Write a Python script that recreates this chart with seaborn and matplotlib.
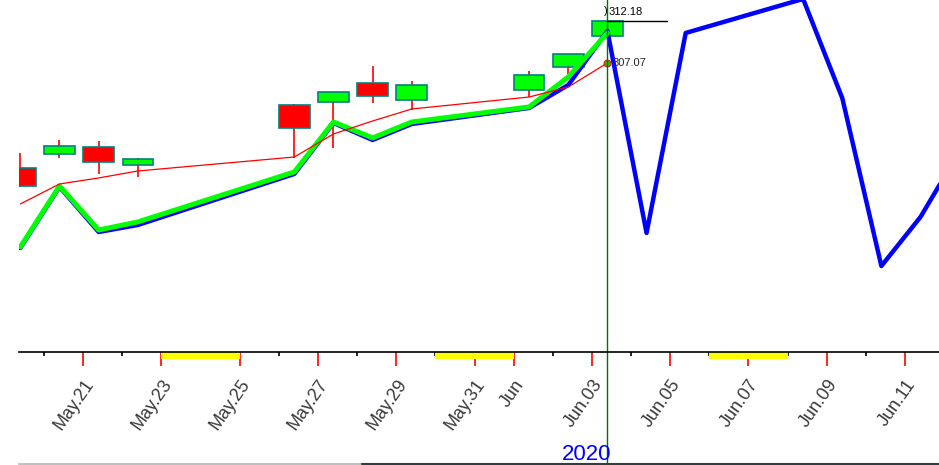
import matplotlib
matplotlib.use("Agg")
import matplotlib.pyplot as plt
import matplotlib.dates as mdates
from matplotlib.patches import Rectangle
from matplotlib.lines import Line2D
from matplotlib.transforms import ScaledTranslation
import pandas as pd
import seaborn as sns

# candles (daily bars, timestamp 09:30)
candle_days = ["2020-05-19", "2020-05-20", "2020-05-21", "2020-05-22", "2020-05-26",
               "2020-05-27", "2020-05-28", "2020-05-29", "2020-06-01", "2020-06-02",
               "2020-06-03"]
opens = [294.30, 296.00, 296.85, 294.66, 301.96, 302.33, 304.64, 302.57, 303.79, 306.58, 310.36]
highs = [296.12, 297.70, 297.58, 295.51, 302.08, 303.54, 306.71, 304.88, 306.10, 308.17, 312.18]
lows = [291.99, 295.51, 293.57, 293.20, 295.51, 296.73, 302.20, 301.35, 302.93, 305.73, 310.36]
closes = [292.11, 296.97, 295.03, 295.39, 299.16, 303.54, 303.06, 304.39, 305.61, 308.17, 312.18]

# fitted (green) and fitted + forecast (blue)
fit_values = [284.69, 292.11, 286.75, 287.73, 293.81, 299.89, 297.95, 299.89, 301.72, 305.37, 310.72]
forecast_days = candle_days + ["2020-06-04", "2020-06-05", "2020-06-08", "2020-06-09",
                               "2020-06-10", "2020-06-11", "2020-06-12"]
forecast_values = [284.57, 291.99, 286.51, 287.36, 293.57, 299.77, 297.70, 299.65, 301.60,
                   304.39, 310.96, 286.39, 310.72, 314.86, 302.81, 282.37, 288.34, 296.36]

# moving average (red)
ma_values = [289.92, 292.35, 293.08, 293.93, 295.63, 298.43, 300.01, 301.47, 302.93, 304.15, 307.07]

# weekends / holidays shaded under the axis
weekend_spans = [("2020-05-23", "2020-05-25"), ("2020-05-30", "2020-06-01"),
                 ("2020-06-06", "2020-06-08")]

major_days = ["2020-05-21", "2020-05-23", "2020-05-25", "2020-05-27", "2020-05-29",
              "2020-05-31", "2020-06-01", "2020-06-03", "2020-06-05", "2020-06-07",
              "2020-06-09", "2020-06-11"]
major_labels = ["May.21", "May.23", "May.25", "May.27", "May.29", "May.31", "Jun",
                "Jun.03", "Jun.05", "Jun.07", "Jun.09", "Jun.11"]
minor_days = ["2020-05-20", "2020-05-22", "2020-05-24", "2020-05-26", "2020-05-28",
              "2020-05-30", "2020-06-02", "2020-06-04", "2020-06-06", "2020-06-08",
              "2020-06-10"]

last_close = 312.18
last_ma = 307.07

sns.set_theme(style="white")
plt.rcParams["font.family"] = ["Liberation Sans", "DejaVu Sans"]

def stamp(d):
    return pd.Timestamp(d) + pd.Timedelta(hours=9, minutes=30)

candles = pd.DataFrame({
    "date": [stamp(d) for d in candle_days],
    "open": opens, "high": highs, "low": lows, "close": closes,
    "fit": fit_values, "ma": ma_values,
})
forecast = pd.DataFrame({"date": [stamp(d) for d in forecast_days], "value": forecast_values})

fig = plt.figure(figsize=(9.39, 4.65), dpi=100)
ax = fig.add_axes([19 / 939, 113 / 465, 920 / 939, 352 / 465])

# candles
xs = mdates.date2num(candles["date"])
up = candles["close"] >= candles["open"]
ax.vlines(xs, candles["low"], candles["high"], color="#ff0000", linewidth=1.2, zorder=2)
ax.bar(xs, (candles["close"] - candles["open"]).abs(),
       bottom=candles[["open", "close"]].min(axis=1), width=0.78,
       color=["#00ff00" if u else "#ff0000" for u in up],
       edgecolor="#008080", linewidth=1.2, zorder=3)

# lines
sns.lineplot(data=forecast, x="date", y="value", color="#0000ff", linewidth=3.2,
             sort=False, estimator=None, ax=ax, zorder=4)
sns.lineplot(data=candles, x="date", y="fit", color="#00ff00", linewidth=3.6,
             sort=False, estimator=None, ax=ax, zorder=5)
sns.lineplot(data=candles, x="date", y="ma", color="#ff0000", linewidth=0.9,
             sort=False, estimator=None, ax=ax, zorder=6)

x_last = xs[-1]
ax.plot([x_last], [last_ma], marker="o", markersize=5, markerfacecolor="#00d000",
        markeredgecolor="#ff0000", markeredgewidth=0.7, zorder=7)
ax.axvline(x_last, ymin=-113 / 352, ymax=1, color="#007000", linewidth=1, clip_on=False, zorder=8)

ax.set_xlim(mdates.date2num(pd.Timestamp("2020-05-19 08:40")),
            mdates.date2num(pd.Timestamp("2020-06-11 20:50")))
ax.set_ylim(271.91, 314.73)

# price labels at the cursor
x_end = mdates.date2num(pd.Timestamp("2020-06-04 22:00"))
ax.plot([x_last, x_end], [last_close, last_close], color="black", linewidth=1, zorder=8)
ax.annotate(f"{last_close:.2f}", (x_last, last_close), xytext=(0.5, 3),
            textcoords="offset points", fontsize=8, color="black", ha="left", va="bottom")
ax.annotate(")", (x_last, last_close), xytext=(0, 3.5),
            textcoords="offset points", fontsize=8, color="black", ha="right", va="bottom")
ax.annotate(f"{last_ma:.2f}", (x_last, last_ma), xytext=(4, 0),
            textcoords="offset points", fontsize=8, color="#222222", ha="left", va="center")

# weekend bands under the axis line
for a, b in weekend_spans:
    x0 = mdates.date2num(pd.Timestamp(a))
    x1 = mdates.date2num(pd.Timestamp(b))
    ax.add_patch(Rectangle((x0, -7 / 352), x1 - x0, 7 / 352, transform=ax.get_xaxis_transform(),
                           facecolor="#ffff00", edgecolor="none", clip_on=False, zorder=1))

# axis styling
for s in ["left", "top", "right"]:
    ax.spines[s].set_visible(False)
ax.spines["bottom"].set_color("black")
ax.spines["bottom"].set_linewidth(1.2)
ax.spines["bottom"].set_zorder(9)
ax.set_yticks([])
ax.set_xticks([mdates.date2num(pd.Timestamp(d)) for d in major_days])
ax.set_xticklabels(major_labels)
ax.set_xticks([mdates.date2num(pd.Timestamp(d)) for d in minor_days], minor=True)
ax.tick_params(axis="x", which="both", bottom=True)
ax.tick_params(axis="x", which="major", length=10, width=1.2, color="#ff0000",
               direction="out", pad=11, labelsize=13, labelcolor="#3a3a3a")
ax.tick_params(axis="x", which="minor", length=3, width=1.2, color="black", direction="out")
ax.set_xlabel("")
ax.set_ylabel("")
offset = ScaledTranslation(5 / 72, 0, fig.dpi_scale_trans)
for lab in ax.get_xticklabels():
    lab.set_rotation(55)
    lab.set_ha("right")
    lab.set_va("center")
    lab.set_rotation_mode("anchor")
    lab.set_transform(lab.get_transform() + offset)

fig.text(587 / 939, 1 - 454 / 465, "2020", color="#0000ff", fontsize=16,
         ha="center", va="center")

# scroll bar at the bottom edge
fig.add_artist(Line2D([19 / 939, 362 / 939], [1.5 / 465, 1.5 / 465], color="#c0c0c0",
                      linewidth=1.5, transform=fig.transFigure))
fig.add_artist(Line2D([362 / 939, 1], [1.5 / 465, 1.5 / 465], color="#2f3f3f",
                      linewidth=1.5, transform=fig.transFigure))

fig.savefig("out.png", dpi=100)
plt.close(fig)
